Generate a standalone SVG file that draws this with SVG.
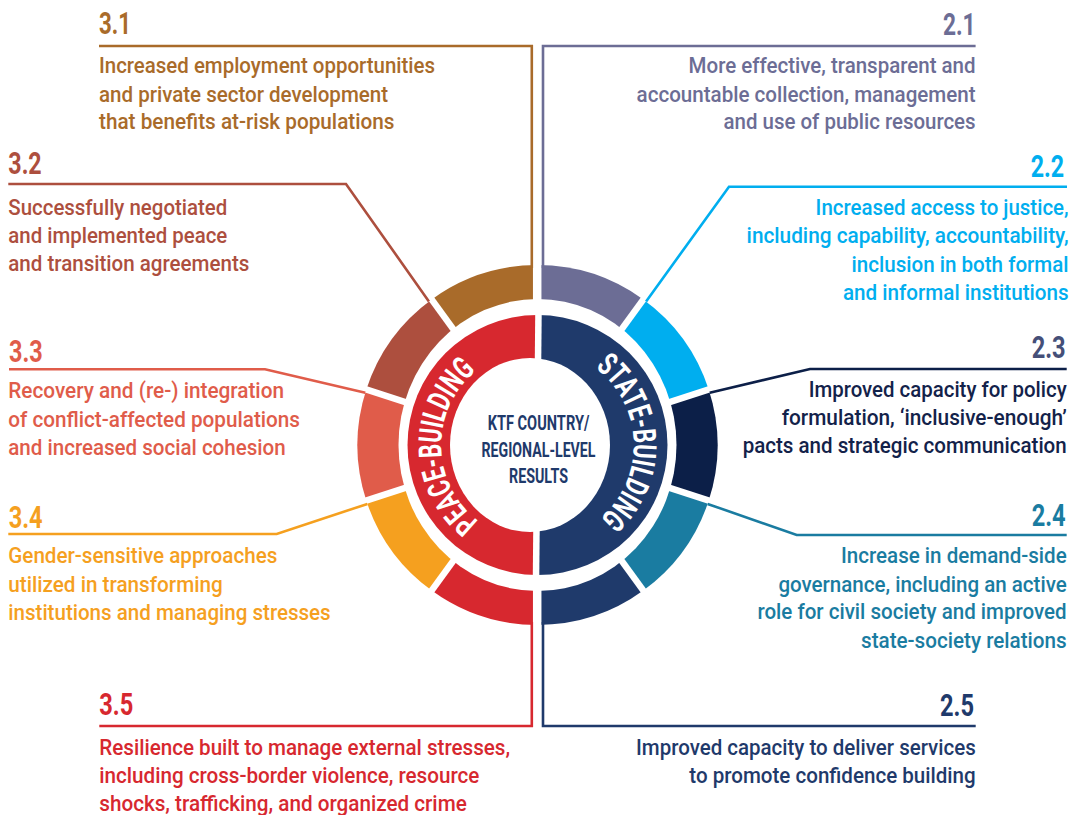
<svg xmlns="http://www.w3.org/2000/svg" width="1079" height="815" viewBox="0 0 1079 815">
<style>
.h{font-family:Roboto,"Liberation Sans",sans-serif;font-weight:700;font-size:31px}
.t{font-family:Roboto,"Liberation Sans",sans-serif;font-weight:500;font-size:22px}
.r{text-anchor:end}
.ct{font-family:Roboto,"Liberation Sans",sans-serif;font-weight:700;font-size:21px;fill:#1f3a6b;text-anchor:middle}
.rt{font-family:Roboto,"Liberation Sans",sans-serif;font-weight:700;font-size:32px;fill:#fff}
.c{fill:none;stroke-width:2.6}
.gap{stroke:#fff;stroke-width:6.5}
</style>
<defs>
<path id="pPeace" d="M530.8 540.8 A96 96 0 0 1 527.5 349.5"/>
<path id="pState" d="M542.5 349.1 A96 96 0 0 1 549.2 540.3"/>
</defs>
<rect width="1079" height="815" fill="#fff"/>
<g id="ring">
<path d="M537.5 445 L537.5 265 A180 180 0 0 1 643.3 299.4 Z" fill="#6c6d95"/>
<path d="M537.5 445 L643.3 299.4 A180 180 0 0 1 708.7 389.4 Z" fill="#00aeef"/>
<path d="M537.5 445 L708.7 389.4 A180 180 0 0 1 708.7 500.6 Z" fill="#0c1f48"/>
<path d="M537.5 445 L708.7 500.6 A180 180 0 0 1 643.3 590.6 Z" fill="#1a7ca1"/>
<path d="M537.5 445 L643.3 590.6 A180 180 0 0 1 537.5 625 Z" fill="#1f3a6b"/>
<path d="M537.5 445 L537.5 625 A180 180 0 0 1 431.7 590.6 Z" fill="#d7282f"/>
<path d="M537.5 445 L431.7 590.6 A180 180 0 0 1 366.3 500.6 Z" fill="#f5a01f"/>
<path d="M537.5 445 L366.3 500.6 A180 180 0 0 1 366.3 389.4 Z" fill="#e05c4a"/>
<path d="M537.5 445 L366.3 389.4 A180 180 0 0 1 431.7 299.4 Z" fill="#ad4f3e"/>
<path d="M537.5 445 L431.7 299.4 A180 180 0 0 1 537.5 265 Z" fill="#a96b2a"/>
<g class="gap">
<line x1="537.5" y1="445" x2="649.2" y2="291.3"/>
<line x1="537.5" y1="445" x2="718.2" y2="386.3"/>
<line x1="537.5" y1="445" x2="718.2" y2="503.7"/>
<line x1="537.5" y1="445" x2="649.2" y2="598.7"/>
<line x1="537.5" y1="445" x2="425.8" y2="598.7"/>
<line x1="537.5" y1="445" x2="356.8" y2="503.7"/>
<line x1="537.5" y1="445" x2="356.8" y2="386.3"/>
<line x1="537.5" y1="445" x2="425.8" y2="291.3"/>
</g>
<ellipse cx="537.5" cy="445" rx="139" ry="146" fill="#fff"/>
<path d="M537.5 315 A130 130 0 0 0 537.5 575 Z" fill="#d7282f"/>
<path d="M537.5 315 A130 130 0 0 1 537.5 575 Z" fill="#1f3a6b"/>
<line x1="537.2" y1="255" x2="537.2" y2="300" stroke="#fff" stroke-width="8.5"/>
<line x1="537.2" y1="588" x2="537.2" y2="635" stroke="#fff" stroke-width="8.5"/>
<line x1="538.5" y1="310" x2="536" y2="580" stroke="#fff" stroke-width="6.5"/>
<ellipse cx="530" cy="445" rx="80" ry="87" fill="#fff"/>
</g>
<g id="ringText">
<text class="rt"><textPath href="#pPeace" startOffset="50%" text-anchor="middle" textLength="172" lengthAdjust="spacingAndGlyphs">PEACE-BUILDING</textPath></text>
<text class="rt"><textPath href="#pState" startOffset="50%" text-anchor="middle" textLength="172" lengthAdjust="spacingAndGlyphs">STATE-BUILDING</textPath></text>
</g>
<g id="center">
<text class="ct" x="538.5" y="430" textLength="101.7" lengthAdjust="spacingAndGlyphs">KTF COUNTRY/</text>
<text class="ct" x="538.5" y="456.7" textLength="114" lengthAdjust="spacingAndGlyphs">REGIONAL-LEVEL</text>
<text class="ct" x="538.5" y="482.7" textLength="59" lengthAdjust="spacingAndGlyphs">RESULTS</text>
</g>
<g id="connectors">
<path class="c" stroke="#a96b2a" d="M99 46 H531.8 V268"/>
<path class="c" stroke="#6c6d95" d="M975.6 46 H543 V268"/>
<path class="c" stroke="#ad4f3e" d="M8.3 184 H346 L428.9 301.4"/>
<path class="c" stroke="#00aeef" d="M1067 186.7 H729 L646.1 301.4"/>
<path class="c" stroke="#e05c4a" d="M9 369.3 H265 L365.3 392.7"/>
<path class="c" stroke="#0c1f48" d="M1066.7 369 H810 L709.7 392.7"/>
<path class="c" stroke="#f5a01f" d="M8.3 534 H276.7 L367.4 503.9"/>
<path class="c" stroke="#1a7ca1" d="M1066.7 535 H796.7 L707.6 503.9"/>
<path class="c" stroke="#d7282f" d="M99.3 726 H531.8 V622"/>
<path class="c" stroke="#1f3a6b" d="M975.7 726 H543 V622"/>
</g>
<g id="n31" fill="#a96b2a">
<text class="h" x="99" y="33.5" textLength="32" lengthAdjust="spacingAndGlyphs">3.1</text>
<text class="t" x="99" y="73.3" textLength="336" lengthAdjust="spacingAndGlyphs">Increased employment opportunities</text>
<text class="t" x="99" y="101.7" textLength="289" lengthAdjust="spacingAndGlyphs">and private sector development</text>
<text class="t" x="99" y="129.3" textLength="295.5" lengthAdjust="spacingAndGlyphs">that benefits at-risk populations</text>
</g>
<g id="n32" fill="#ad4f3e">
<text class="h" x="8.3" y="174" textLength="33.4" lengthAdjust="spacingAndGlyphs">3.2</text>
<text class="t" x="8.3" y="215" textLength="219" lengthAdjust="spacingAndGlyphs">Successfully negotiated</text>
<text class="t" x="8.3" y="243.3" textLength="219" lengthAdjust="spacingAndGlyphs">and implemented peace</text>
<text class="t" x="8.3" y="270.7" textLength="241" lengthAdjust="spacingAndGlyphs">and transition agreements</text>
</g>
<g id="n33" fill="#e05c4a">
<text class="h" x="9" y="362.3" textLength="33.7" lengthAdjust="spacingAndGlyphs">3.3</text>
<text class="t" x="8.3" y="398.3" textLength="275.7" lengthAdjust="spacingAndGlyphs">Recovery and (re-) integration</text>
<text class="t" x="8.3" y="426.7" textLength="291.7" lengthAdjust="spacingAndGlyphs">of conflict-affected populations</text>
<text class="t" x="8.3" y="455" textLength="277.3" lengthAdjust="spacingAndGlyphs">and increased social cohesion</text>
</g>
<g id="n34" fill="#f5a01f">
<text class="h" x="8.7" y="528.3" textLength="34" lengthAdjust="spacingAndGlyphs">3.4</text>
<text class="t" x="8.3" y="563.3" textLength="269" lengthAdjust="spacingAndGlyphs">Gender-sensitive approaches</text>
<text class="t" x="8.3" y="591.7" textLength="214.4" lengthAdjust="spacingAndGlyphs">utilized in transforming</text>
<text class="t" x="8.3" y="620" textLength="322.4" lengthAdjust="spacingAndGlyphs">institutions and managing stresses</text>
</g>
<g id="n35" fill="#d7282f">
<text class="h" x="99.3" y="715" textLength="34" lengthAdjust="spacingAndGlyphs">3.5</text>
<text class="t" x="99.3" y="755" textLength="410.7" lengthAdjust="spacingAndGlyphs">Resilience built to manage external stresses,</text>
<text class="t" x="99.3" y="782.7" textLength="380" lengthAdjust="spacingAndGlyphs">including cross-border violence, resource</text>
<text class="t" x="99.3" y="810.7" textLength="367.4" lengthAdjust="spacingAndGlyphs">shocks, trafficking, and organized crime</text>
</g>
<g id="n21" fill="#6c6d95">
<text class="h r" x="975.6" y="35" textLength="32.7" lengthAdjust="spacingAndGlyphs">2.1</text>
<text class="t r" x="975.6" y="73.3" textLength="287" lengthAdjust="spacingAndGlyphs">More effective, transparent and</text>
<text class="t r" x="975.6" y="101.7" textLength="339" lengthAdjust="spacingAndGlyphs">accountable collection, management</text>
<text class="t r" x="975.6" y="129.3" textLength="252" lengthAdjust="spacingAndGlyphs">and use of public resources</text>
</g>
<g id="n22" fill="#00aeef">
<text class="h r" x="1064.1" y="177" textLength="33.4" lengthAdjust="spacingAndGlyphs">2.2</text>
<text class="t r" x="1068.6" y="215" textLength="253" lengthAdjust="spacingAndGlyphs">Increased access to justice,</text>
<text class="t r" x="1068.6" y="243.3" textLength="322" lengthAdjust="spacingAndGlyphs">including capability, accountability,</text>
<text class="t r" x="1068.6" y="271.7" textLength="217" lengthAdjust="spacingAndGlyphs">inclusion in both formal</text>
<text class="t r" x="1068.6" y="300" textLength="225.6" lengthAdjust="spacingAndGlyphs">and informal institutions</text>
</g>
<g id="n23" fill="#13224a">
<text class="h r" x="1065.7" y="358.3" textLength="34" lengthAdjust="spacingAndGlyphs" fill="#454f78">2.3</text>
<text class="t r" x="1066.7" y="396.7" textLength="258" lengthAdjust="spacingAndGlyphs">Improved capacity for policy</text>
<text class="t r" x="1066.7" y="425" textLength="285" lengthAdjust="spacingAndGlyphs">formulation, ‘inclusive-enough’</text>
<text class="t r" x="1066.7" y="453.3" textLength="324" lengthAdjust="spacingAndGlyphs">pacts and strategic communication</text>
</g>
<g id="n24" fill="#1a7ca1">
<text class="h r" x="1065.7" y="526" textLength="34" lengthAdjust="spacingAndGlyphs">2.4</text>
<text class="t r" x="1066.7" y="563.3" textLength="225.7" lengthAdjust="spacingAndGlyphs">Increase in demand-side</text>
<text class="t r" x="1066.7" y="591.7" textLength="288.3" lengthAdjust="spacingAndGlyphs">governance, including an active</text>
<text class="t r" x="1066.7" y="619.3" textLength="309.3" lengthAdjust="spacingAndGlyphs">role for civil society and improved</text>
<text class="t r" x="1066.7" y="647.7" textLength="205.7" lengthAdjust="spacingAndGlyphs">state-society relations</text>
</g>
<g id="n25" fill="#1f3a6b">
<text class="h r" x="974" y="715.7" textLength="34" lengthAdjust="spacingAndGlyphs">2.5</text>
<text class="t r" x="975.7" y="755" textLength="339.7" lengthAdjust="spacingAndGlyphs">Improved capacity to deliver services</text>
<text class="t r" x="975.7" y="782.7" textLength="286.4" lengthAdjust="spacingAndGlyphs">to promote confidence building</text>
</g>
</svg>
